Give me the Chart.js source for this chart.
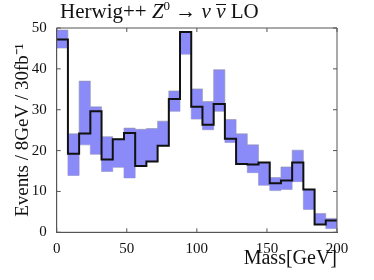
<!DOCTYPE html>
<html lang="en">
<head>
    <meta charset="UTF-8">
    <script src="https://cdn.jsdelivr.net/npm/chart.js"></script>
    <title>Herwig++ Z0 nu nubar LO</title>
    <style>
        body { margin: 0; background: #fff; }
        #wrap { position: relative; width: 374px; height: 280px; }
        #title {
            position: absolute; left: 60px; top: -2px;
            font-family: 'Liberation Serif', serif; font-size: 21px; color: #111;
            white-space: nowrap;
        }
        #title sup { font-size: 13px; }
        .bar { display: inline-block; line-height: 11px; border-top: 1px solid #111; padding-top: 1px; }
        canvas { position: absolute; left: 0; top: 0; }
    </style>
</head>
<body>
<div id="wrap">
    <canvas id="canvas" width="374" height="280"></canvas>
    <div id="title">Herwig++ <i>Z</i><sup>0</sup> &rarr; <i>&nu;</i> <i class="bar">&nu;</i> LO</div>
</div>
<script>
    // bin edges: 0..200 GeV in 8 GeV bins
    const binLow = [0, 8, 16, 24, 32, 40, 48, 56, 64, 72, 80, 88, 96, 104, 112, 120, 128, 136, 144, 152, 160, 168, 176, 184, 192];
    const binWidth = 8;

    // central histogram (black line)
    const histVals = [47.2, 19.2, 24.2, 29.6, 17.8, 22.8, 24.3, 16.2, 17.3, 21.2, 32.6, 49.0, 30.7, 26.3, 31.4, 22.9, 16.7, 16.6, 17.1, 12.0, 12.7, 17.1, 10.5, 1.9, 2.9];

    // blue band (upper / lower)
    const bandHi = [49.5, 24.1, 37.0, 30.7, 23.4, 22.8, 25.5, 25.2, 25.4, 27.2, 34.6, 49.0, 35.1, 32.0, 39.8, 27.6, 24.1, 21.4, 17.1, 13.4, 16.0, 20.1, 10.5, 4.6, 3.4];
    const bandLo = [45.1, 13.9, 21.4, 19.1, 14.9, 15.9, 13.3, 16.2, 17.3, 21.2, 29.6, 43.6, 27.7, 25.1, 29.6, 22.0, 16.7, 14.6, 11.5, 10.2, 10.5, 12.4, 5.6, 1.9, 0.9];

    const xTicks = [0, 50, 100, 150, 200];
    const yTicks = [0, 10, 20, 30, 40, 50];

    Chart.defaults.font.family = 'Liberation Serif';
    Chart.defaults.color = '#111';

    // step points at bin low edges, plus closing point at the last edge
    function steps(vals) {
        const pts = binLow.map((x, i) => ({ x: x, y: vals[i] }));
        pts.push({ x: binLow[binLow.length - 1] + binWidth, y: vals[vals.length - 1] });
        return pts;
    }

    // inward ticks on all four sides + top/right frame
    const frameTicks = {
        id: 'frameTicks',
        afterDraw(chart) {
            const { ctx, chartArea: a, scales: { x, y } } = chart;
            ctx.save();
            ctx.strokeStyle = '#555';
            ctx.lineWidth = 1;
            ctx.beginPath();
            ctx.rect(a.left, a.top, a.right - a.left, a.bottom - a.top);
            xTicks.forEach(v => {
                const px = x.getPixelForValue(v);
                ctx.moveTo(px, a.bottom); ctx.lineTo(px, a.bottom - 4);
                ctx.moveTo(px, a.top); ctx.lineTo(px, a.top + 4);
            });
            yTicks.forEach(v => {
                const py = y.getPixelForValue(v);
                ctx.moveTo(a.left, py); ctx.lineTo(a.left + 4, py);
                ctx.moveTo(a.right, py); ctx.lineTo(a.right - 4, py);
            });
            ctx.stroke();
            ctx.restore();
        }
    };

    const edge = 'rgba(150,150,170,0.6)';

    new Chart(document.getElementById('canvas'), {
        type: 'line',
        data: {
            datasets: [
                {
                    data: steps(histVals),
                    stepped: true,
                    borderColor: '#111',
                    borderWidth: 2,
                    pointRadius: 0,
                    fill: false,
                    order: 0,
                },
                {
                    data: steps(bandHi),
                    stepped: true,
                    borderColor: edge,
                    borderWidth: 1,
                    pointRadius: 0,
                    backgroundColor: '#8a8af8',
                    fill: '+1',
                    order: 1,
                },
                {
                    data: steps(bandLo),
                    stepped: true,
                    borderColor: edge,
                    borderWidth: 1,
                    pointRadius: 0,
                    fill: false,
                    order: 2,
                },
            ],
        },
        options: {
            responsive: false,
            animation: false,
            devicePixelRatio: 1,
            layout: { padding: { top: 28, right: 37, left: 0, bottom: 0 } },
            plugins: { legend: { display: false }, tooltip: { enabled: false } },
            scales: {
                x: {
                    type: 'linear',
                    min: 0, max: 200,
                    grid: { display: false },
                    border: { color: '#555' },
                    afterBuildTicks: s => { s.ticks = xTicks.map(v => ({ value: v })); },
                    ticks: { font: { size: 15 }, padding: 0, maxRotation: 0 },
                    title: {
                        display: true, text: 'Mass[GeV]', align: 'end',
                        font: { size: 20 }, padding: { top: 0, bottom: 9 },
                    },
                    afterFit: s => { s.height = 47.7; },
                },
                y: {
                    min: 0, max: 50,
                    grid: { display: false },
                    border: { color: '#555' },
                    afterBuildTicks: s => { s.ticks = yTicks.map(v => ({ value: v })); },
                    ticks: { font: { size: 15 }, padding: 2 },
                    title: {
                        display: true, text: 'Events / 8GeV / 30fb\u207B\u00B9',
                        font: { size: 19 }, padding: { top: 12, bottom: 0 },
                    },
                    afterFit: s => { s.width = 56.7; },
                },
            },
        },
        plugins: [frameTicks],
    });
</script>
</body>
</html>
